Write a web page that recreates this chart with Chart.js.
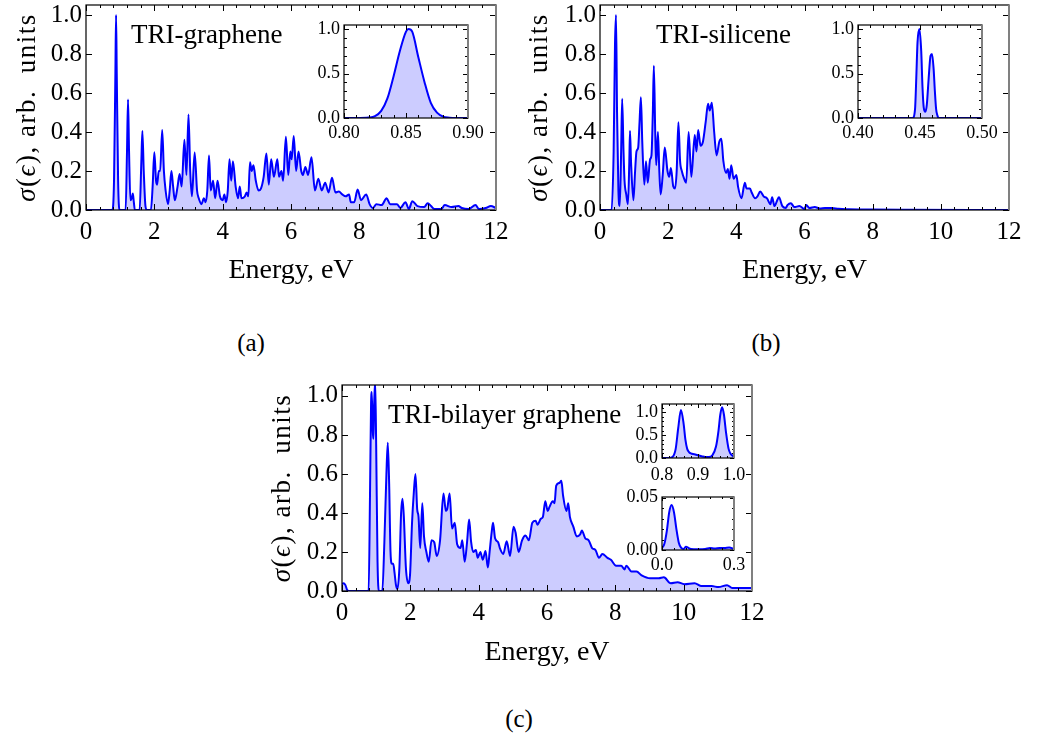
<!DOCTYPE html>
<html>
<head>
<meta charset="utf-8">
<script src="https://cdn.jsdelivr.net/npm/chart.js@4.4.1/dist/chart.umd.min.js"></script>
<style>
  body { margin: 0; background: #fff; width: 1037px; height: 742px; position: relative; overflow: hidden; font-family: "Liberation Serif", serif; }
  canvas { position: absolute; }
  .cap { position: absolute; width: 60px; text-align: center; font-size: 25px; line-height: 25px; }
</style>
</head>
<body>
<canvas id="mainA" width="520" height="295" style="left:0px;top:0px"></canvas>
<canvas id="mainB" width="517" height="295" style="left:520px;top:0px"></canvas>
<canvas id="mainC" width="535" height="295" style="left:240px;top:380px"></canvas>
<canvas id="insetA" width="200" height="135" style="left:296px;top:18px"></canvas>
<canvas id="insetB" width="200" height="135" style="left:810px;top:18px"></canvas>
<canvas id="insetC1" width="140" height="95" style="left:614px;top:398px"></canvas>
<canvas id="insetC2" width="140" height="105" style="left:614px;top:481px"></canvas>
<div class="cap" style="left:221px;top:330px">(a)</div>
<div class="cap" style="left:736px;top:330px">(b)</div>
<div class="cap" style="left:489px;top:706px">(c)</div>
<script>
// ===== Data =====
// (a) TRI-graphene
const energyA = [
  0, 0.77, 0.82, 0.86, 0.88, 0.90, 0.94, 0.98, 1.16, 1.20,
  1.23, 1.26, 1.30, 1.34, 1.37, 1.40, 1.43, 1.55, 1.57, 1.62,
  1.65, 1.69, 1.74, 1.78, 1.90, 1.95, 2.00, 2.05, 2.08, 2.13,
  2.17, 2.23, 2.28, 2.33, 2.40, 2.45, 2.50, 2.55, 2.60, 2.68,
  2.74, 2.80, 2.88, 2.94, 3.00, 3.05, 3.10, 3.18, 3.25, 3.30,
  3.38, 3.45, 3.50, 3.55, 3.60, 3.65, 3.72, 3.78, 3.85, 3.92,
  4.00, 4.05, 4.10, 4.15, 4.20, 4.25, 4.30, 4.38, 4.45, 4.50,
  4.55, 4.65, 4.70, 4.75, 4.80, 4.85, 4.90, 4.97, 5.05, 5.12,
  5.20, 5.28, 5.35, 5.42, 5.50, 5.60, 5.65, 5.72, 5.77, 5.85,
  5.92, 5.98, 6.02, 6.08, 6.15, 6.22, 6.30, 6.35, 6.42, 6.50,
  6.60, 6.70, 6.80, 6.90, 7.00, 7.10, 7.20, 7.30, 7.40, 7.50,
  7.60, 7.70, 7.75, 7.85, 7.95, 8.05, 8.20, 8.30, 8.40, 8.50,
  8.65, 8.80, 8.90, 9.10, 9.20, 9.35, 9.45, 9.55, 9.70, 9.90,
  10.0, 10.1, 10.2, 10.4, 10.5, 10.7, 10.9, 11.0, 11.2, 11.4,
  11.5, 11.7, 11.85, 12.0
];
const sigmaA = [
  0, 0, 0.15, 0.7, 1.0, 0.7, 0.15, 0, 0, 0.3,
  0.567, 0.3, 0.05, 0.06, 0.085, 0.04, 0, 0, 0, 0.25,
  0.405, 0.2, 0.02, 0, 0, 0.12, 0.296, 0.15, 0.13, 0.2,
  0.2, 0.41, 0.2, 0.1, 0.03, 0.1, 0.2, 0.12, 0.05, 0.12,
  0.185, 0.12, 0.36, 0.18, 0.49, 0.2, 0.07, 0.295, 0.1, 0.06,
  0.03, 0.06, 0.04, 0.1, 0.28, 0.1, 0.15, 0.06, 0.15, 0.07,
  0.05, 0.08, 0.04, 0.1, 0.26, 0.15, 0.25, 0.12, 0.06, 0.12,
  0.06, 0.07, 0.09, 0.07, 0.245, 0.2, 0.23, 0.15, 0.1, 0.11,
  0.17, 0.29, 0.13, 0.26, 0.17, 0.26, 0.17, 0.2, 0.15, 0.375,
  0.18, 0.3, 0.26, 0.38, 0.2, 0.3, 0.2, 0.18, 0.22, 0.18,
  0.27, 0.1, 0.16, 0.1, 0.14, 0.09, 0.165, 0.09, 0.095, 0.08,
  0.07, 0.08, 0.04, 0.04, 0.105, 0.05, 0.08, 0.03, 0.01, 0.03,
  0.025, 0.06, 0.03, 0.03, 0.01, 0.04, 0.005, 0.045, 0.02, 0.015,
  0.035, 0.02, 0.005, 0.005, 0.025, 0.015, 0.02, 0.01, 0.005, 0.025,
  0.005, 0.01, 0.02, 0.01
];
const insetEnergyA = [0.80, 0.81, 0.82, 0.825, 0.83, 0.835, 0.84, 0.845, 0.85, 0.852, 0.855, 0.86, 0.865, 0.87, 0.875, 0.88, 0.885, 0.89, 0.90];
const insetSigmaA  = [0, 0, 0.005, 0.02, 0.08, 0.22, 0.47, 0.75, 0.97, 1.0, 0.97, 0.68, 0.4, 0.17, 0.06, 0.015, 0.004, 0, 0];

// (b) TRI-silicene
const energyB = [
  0, 0.34, 0.40, 0.44, 0.47, 0.50, 0.54, 0.58, 0.62, 0.65,
  0.69, 0.72, 0.77, 0.82, 0.86, 0.88, 0.91, 0.98, 1.03, 1.07,
  1.12, 1.16, 1.20, 1.24, 1.30, 1.35, 1.40, 1.47, 1.51, 1.55,
  1.58, 1.62, 1.65, 1.70, 1.74, 1.78, 1.84, 1.90, 1.98, 2.03,
  2.08, 2.15, 2.20, 2.25, 2.30, 2.35, 2.40, 2.47, 2.53, 2.60,
  2.68, 2.78, 2.83, 2.88, 2.95, 3.02, 3.10, 3.17, 3.22, 3.28,
  3.35, 3.42, 3.50, 3.56, 3.62, 3.70, 3.75, 3.80, 3.85, 3.92,
  4.00, 4.05, 4.15, 4.25, 4.30, 4.40, 4.45, 4.55, 4.62, 4.70,
  4.80, 4.90, 5.00, 5.05, 5.12, 5.20, 5.25, 5.35, 5.45, 5.50,
  5.60, 5.70, 5.85, 6.00, 6.05, 6.15, 6.30, 6.45, 6.60, 6.80,
  7.00, 7.30, 8.00, 9.00, 12.0
];
const sigmaB = [
  0, 0, 0.3, 0.85, 1.0, 0.5, 0.1, 0.02, 0.3, 0.57,
  0.3, 0.15, 0.08, 0.03, 0.25, 0.405, 0.25, 0.05, 0.2, 0.3,
  0.32, 0.45, 0.578, 0.35, 0.13, 0.25, 0.14, 0.26, 0.28, 0.5,
  0.74, 0.4, 0.23, 0.4, 0.2, 0.08, 0.18, 0.32, 0.2, 0.17,
  0.215, 0.12, 0.11, 0.2, 0.45, 0.25, 0.2, 0.16, 0.14, 0.40,
  0.17, 0.385, 0.3, 0.41, 0.33, 0.35, 0.45, 0.545, 0.51, 0.55,
  0.4, 0.28, 0.35, 0.365, 0.25, 0.19, 0.21, 0.16, 0.23, 0.16,
  0.18, 0.12, 0.06, 0.14, 0.11, 0.11, 0.09, 0.06, 0.07, 0.095,
  0.07, 0.06, 0.03, 0.065, 0.02, 0.05, 0.065, 0.02, 0.01, 0.025,
  0.035, 0.015, 0.02, 0.005, 0.025, 0.01, 0.015, 0.008, 0.01, 0.01,
  0.006, 0.004, 0.002, 0.001, 0
];
const insetEnergyB = [0.40, 0.444, 0.446, 0.447, 0.448, 0.4495, 0.451, 0.452, 0.453, 0.4543, 0.4555, 0.457, 0.4585, 0.4597, 0.461, 0.462, 0.463, 0.464, 0.465, 0.50];
const insetSigmaB  = [0, 0, 0.1, 0.45, 0.85, 1.0, 0.75, 0.35, 0.12, 0.07, 0.15, 0.45, 0.7, 0.72, 0.55, 0.3, 0.1, 0.03, 0, 0];

// (c) TRI-bilayer graphene
const energyC = [
  0, 0.04, 0.1, 0.15, 0.2, 0.78, 0.82, 0.85, 0.87, 0.9,
  0.92, 0.94, 0.97, 1.0, 1.04, 1.08, 1.18, 1.24, 1.3, 1.34,
  1.38, 1.42, 1.46, 1.5, 1.54, 1.58, 1.62, 1.68, 1.73, 1.77,
  1.81, 1.87, 1.94, 1.99, 2.05, 2.1, 2.15, 2.2, 2.24, 2.29,
  2.35, 2.4, 2.47, 2.54, 2.62, 2.7, 2.77, 2.87, 2.97, 3.04,
  3.08, 3.15, 3.22, 3.3, 3.37, 3.47, 3.52, 3.59, 3.66, 3.72,
  3.78, 3.84, 3.92, 3.97, 4.05, 4.12, 4.2, 4.27, 4.32, 4.38,
  4.42, 4.48, 4.57, 4.62, 4.72, 4.82, 4.92, 5.02, 5.08, 5.17,
  5.27, 5.37, 5.47, 5.57, 5.67, 5.72, 5.82, 5.88, 5.95, 6.02,
  6.07, 6.17, 6.22, 6.27, 6.37, 6.42, 6.47, 6.57, 6.62, 6.67,
  6.77, 6.87, 6.97, 7.02, 7.12, 7.22, 7.32, 7.42, 7.52, 7.62,
  7.77, 7.87, 8.02, 8.17, 8.27, 8.32, 8.47, 8.62, 8.77, 9.02,
  9.27, 9.42, 9.62, 9.82, 10.02, 10.32, 10.52, 10.82, 11.02, 11.27,
  11.42, 12.0
];
const sigmaC = [
  0.035, 0.04, 0.03, 0.005, 0, 0, 0.5, 0.95, 1.02, 0.82,
  0.78, 0.95, 1.08, 0.75, 0.15, 0, 0, 0.25, 0.6, 0.76,
  0.55, 0.2, 0.14, 0.14, 0.09, 0.03, 0.01, 0.12, 0.4, 0.473,
  0.38, 0.12, 0.04, 0.08, 0.35, 0.5, 0.6, 0.42, 0.38, 0.22,
  0.45, 0.28, 0.2, 0.15, 0.26, 0.25, 0.18, 0.26, 0.5, 0.41,
  0.42, 0.5, 0.32, 0.35, 0.24, 0.22, 0.26, 0.15, 0.25, 0.366,
  0.25, 0.2, 0.21, 0.17, 0.2, 0.16, 0.205, 0.12, 0.2, 0.3,
  0.35, 0.27, 0.25, 0.22, 0.19, 0.255, 0.18, 0.33, 0.3, 0.2,
  0.26, 0.285, 0.26, 0.35, 0.36, 0.34, 0.37, 0.38, 0.46, 0.41,
  0.43, 0.46, 0.45, 0.54, 0.555, 0.565, 0.49, 0.41, 0.45, 0.38,
  0.33, 0.28, 0.29, 0.31, 0.27, 0.26, 0.22, 0.21, 0.17, 0.19,
  0.17, 0.16, 0.13, 0.13, 0.11, 0.13, 0.1, 0.1, 0.08, 0.065,
  0.065, 0.07, 0.04, 0.045, 0.035, 0.04, 0.025, 0.025, 0.02, 0.03,
  0.015, 0.015
];
const insetEnergyC1 = [0.80, 0.82, 0.83, 0.838, 0.845, 0.8526, 0.86, 0.865, 0.87, 0.875, 0.88, 0.89, 0.90, 0.91, 0.92, 0.93, 0.94, 0.95, 0.957, 0.962, 0.967, 0.972, 0.978, 0.985, 0.99, 1.0];
const insetSigmaC1  = [0, 0, 0.03, 0.2, 0.65, 1.05, 0.75, 0.4, 0.2, 0.13, 0.1, 0.08, 0.06, 0.04, 0.02, 0.02, 0.06, 0.25, 0.6, 0.95, 1.11, 0.95, 0.55, 0.2, 0.1, 0.03];
const insetEnergyC2 = [0.0, 0.01, 0.02, 0.03, 0.04, 0.05, 0.06, 0.07, 0.08, 0.09, 0.10, 0.11, 0.12, 0.15, 0.18, 0.20, 0.22, 0.24, 0.26, 0.28, 0.30];
const insetSigmaC2  = [0.002, 0.006, 0.018, 0.036, 0.043, 0.036, 0.02, 0.007, 0.002, 0.001, 0.003, 0.002, 0.001, 0.0008, 0.001, 0.002, 0.0015, 0.002, 0.002, 0.0025, 0.001];

const panelNames = ["TRI-graphene", "TRI-silicene", "TRI-bilayer graphene"];
const xTitle = "Energy, eV";
// y title pieces: [text, italic]
const yTitleParts = [["σ", true], ["(", false], ["ϵ", true], ["), arb.  units", false]];

// ===== Styling =====
const SERIF = '"Liberation Serif", "DejaVu Serif", serif';
Chart.defaults.color = '#000';

// inward ticks on all four sides, frame, panel label, y title, white inset background
const frameTicks = {
  id: 'frameTicks',
  beforeDraw(chart, args, o) {
    if (!o.bg) return;
    const a = chart.chartArea, ctx = chart.ctx;
    ctx.save();
    ctx.fillStyle = o.bg;
    ctx.fillRect(a.left, a.top, a.right - a.left, a.bottom - a.top);
    ctx.restore();
  },
  afterDatasetsDraw(chart, args, o) {
    const { ctx, chartArea: a, scales } = chart;
    ctx.save();
    ctx.strokeStyle = '#000';
    ctx.lineWidth = 1;
    const marks = (scale, step, len, horiz) => {
      if (!step) return;
      const first = Math.ceil(scale.min / step - 1e-6);
      const last = Math.floor(scale.max / step + 1e-6);
      ctx.beginPath();
      for (let i = first; i <= last; i++) {
        const p = Math.round(scale.getPixelForValue(i * step)) + 0.5;
        if (horiz) {
          ctx.moveTo(p, a.bottom); ctx.lineTo(p, a.bottom - len);
          ctx.moveTo(p, a.top); ctx.lineTo(p, a.top + len);
        } else {
          ctx.moveTo(a.left, p); ctx.lineTo(a.left + len, p);
          ctx.moveTo(a.right, p); ctx.lineTo(a.right - len, p);
        }
      }
      ctx.stroke();
    };
    marks(scales.x, o.xMinor, o.minorLen, true);
    marks(scales.x, o.xMajor, o.majorLen, true);
    marks(scales.y, o.yMinor, o.minorLen, false);
    marks(scales.y, o.yMajor, o.majorLen, false);

    ctx.lineWidth = 1.2;
    ctx.strokeRect(a.left, a.top, a.right - a.left, a.bottom - a.top);
    ctx.strokeStyle = '#808080';
    ctx.lineWidth = 2;
    ctx.beginPath();
    ctx.moveTo(a.right, a.top); ctx.lineTo(a.right, a.bottom);
    ctx.stroke();

    ctx.fillStyle = '#000';
    if (o.label) {
      ctx.font = '27px ' + SERIF;
      ctx.textBaseline = 'middle';
      ctx.fillText(o.label, o.labelX, o.labelY);
    }
    if (o.yTitleX) {
      // rotated y title with italic symbols
      ctx.translate(o.yTitleX, (a.top + a.bottom) / 2);
      ctx.rotate(-Math.PI / 2);
      ctx.textBaseline = 'middle';
      ctx.textAlign = 'left';
      if ('letterSpacing' in ctx) ctx.letterSpacing = '1.5px';
      const fontOf = it => (it ? 'italic ' : '') + '27px ' + SERIF;
      let total = 0;
      yTitleParts.forEach(([t, it]) => { ctx.font = fontOf(it); total += ctx.measureText(t).width; });
      let x = -total / 2;
      yTitleParts.forEach(([t, it]) => {
        ctx.font = fontOf(it);
        ctx.fillText(t, x, 0);
        x += ctx.measureText(t).width;
      });
    }
    ctx.restore();
  }
};
Chart.register(frameTicks);

function makeChart(id, p) {
  const canvas = document.getElementById(id);
  const W = canvas.width, H = canvas.height;
  const zeroPad = s => { s.paddingLeft = 0; s.paddingRight = 0; s.paddingTop = 0; s.paddingBottom = 0; };
  return new Chart(canvas, {
    type: 'line',
    data: {
      datasets: [{
        data: p.xs.map((e, i) => ({ x: e, y: p.ys[i] })),
        borderColor: '#0000ff',
        borderWidth: p.lineWidth,
        backgroundColor: 'rgba(0, 0, 255, 0.2)',
        fill: 'origin',
        pointRadius: 0,
        cubicInterpolationMode: 'monotone'
      }]
    },
    options: {
      responsive: false,
      animation: false,
      events: [],
      layout: { padding: { top: p.area.top, right: W - p.area.right, bottom: 0, left: 0 } },
      plugins: {
        legend: { display: false },
        tooltip: { enabled: false },
        frameTicks: p.ticks
      },
      scales: {
        x: {
          type: 'linear', min: p.xMin, max: p.xMax,
          afterFit: s => { s.height = H - p.area.bottom; zeroPad(s); },
          grid: { display: false, drawTicks: false }, border: { display: false },
          ticks: {
            stepSize: p.ticks.xMajor, includeBounds: false, autoSkip: false, maxRotation: 0,
            padding: p.xPad, font: { family: SERIF, size: p.tickSize },
            callback: v => Number(v).toFixed(p.xDec)
          },
          title: p.xTitle ? { display: true, text: xTitle, font: { family: SERIF, size: 28 }, padding: { top: 0, bottom: p.xTitlePad } } : { display: false }
        },
        y: {
          type: 'linear', min: 0, max: p.yMax,
          afterFit: s => { s.width = p.area.left; zeroPad(s); },
          grid: { display: false, drawTicks: false }, border: { display: false },
          ticks: {
            stepSize: p.ticks.yMajor, includeBounds: false, autoSkip: false,
            padding: 4, font: { family: SERIF, size: p.tickSize },
            callback: v => Number(v).toFixed(p.yDec)
          }
        }
      }
    }
  });
}

// ===== Main panels =====
makeChart('mainA', {
  xs: energyA, ys: sigmaA, lineWidth: 2, xMin: 0, xMax: 12, yMax: 1.051,
  area: { left: 86, right: 496, top: 5, bottom: 210 },
  tickSize: 25, xDec: 0, yDec: 1, xPad: 7, xTitle: true, xTitlePad: 8,
  ticks: { xMajor: 2, xMinor: 0.4, yMajor: 0.2, yMinor: 0, majorLen: 6, minorLen: 3,
    label: panelNames[0], labelX: 131, labelY: 36, yTitleX: 28 }
});
makeChart('mainB', {
  xs: energyB, ys: sigmaB, lineWidth: 2, xMin: 0, xMax: 12, yMax: 1.051,
  area: { left: 80, right: 489, top: 5, bottom: 210 },
  tickSize: 25, xDec: 0, yDec: 1, xPad: 7, xTitle: true, xTitlePad: 8,
  ticks: { xMajor: 2, xMinor: 0.4, yMajor: 0.2, yMinor: 0, majorLen: 6, minorLen: 3,
    label: panelNames[1], labelX: 136, labelY: 36, yTitleX: 20 }
});
makeChart('mainC', {
  xs: energyC, ys: sigmaC, lineWidth: 2, xMin: 0, xMax: 12, yMax: 1.056,
  area: { left: 102, right: 512, top: 5, bottom: 211 },
  tickSize: 25, xDec: 0, yDec: 1, xPad: 7, xTitle: true, xTitlePad: 6,
  ticks: { xMajor: 2, xMinor: 0.4, yMajor: 0.2, yMinor: 0, majorLen: 6, minorLen: 3,
    label: panelNames[2], labelX: 148, labelY: 36, yTitleX: 43 }
});

// ===== Insets =====
makeChart('insetA', {
  xs: insetEnergyA, ys: insetSigmaA, lineWidth: 2, xMin: 0.80, xMax: 0.90, yMax: 1.045,
  area: { left: 48, right: 172, top: 7, bottom: 100 },
  tickSize: 18, xDec: 2, yDec: 1, xPad: 4,
  ticks: { bg: '#fff', xMajor: 0.05, xMinor: 0.01, yMajor: 0.5, yMinor: 0.1, majorLen: 5, minorLen: 3 }
});
makeChart('insetB', {
  xs: insetEnergyB, ys: insetSigmaB, lineWidth: 2, xMin: 0.40, xMax: 0.50, yMax: 1.045,
  area: { left: 48, right: 172, top: 7, bottom: 100 },
  tickSize: 18, xDec: 2, yDec: 1, xPad: 4,
  ticks: { bg: '#fff', xMajor: 0.05, xMinor: 0.01, yMajor: 0.5, yMinor: 0.1, majorLen: 5, minorLen: 3 }
});
makeChart('insetC1', {
  xs: insetEnergyC1, ys: insetSigmaC1, lineWidth: 2, xMin: 0.8, xMax: 1.0, yMax: 1.18,
  area: { left: 48, right: 120, top: 6, bottom: 60 },
  tickSize: 18, xDec: 1, yDec: 1, xPad: 6,
  ticks: { bg: '#fff', xMajor: 0.1, xMinor: 0.02, yMajor: 0.5, yMinor: 0.1, majorLen: 4, minorLen: 2 }
});
makeChart('insetC2', {
  xs: insetEnergyC2, ys: insetSigmaC2, lineWidth: 2, xMin: 0, xMax: 0.3, yMax: 0.0507,
  area: { left: 48, right: 120, top: 16, bottom: 69 },
  tickSize: 18, xDec: 1, yDec: 2, xPad: 4,
  ticks: { bg: '#fff', xMajor: 0.3, xMinor: 0.05, yMajor: 0.05, yMinor: 0.01, majorLen: 4, minorLen: 2 }
});
</script>
</body>
</html>
